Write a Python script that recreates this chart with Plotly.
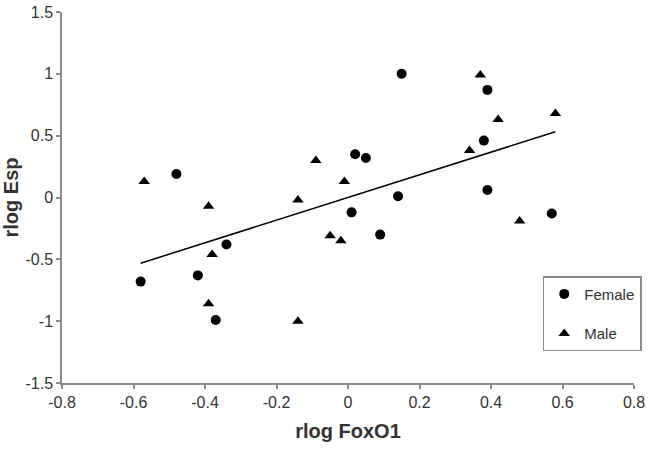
import numpy as np
import plotly.graph_objects as go

female_x = [-0.48, 0.15, 0.39, 0.38, 0.02, 0.05, 0.14, 0.39, 0.01, 0.57, 0.09, -0.58, -0.42, -0.34, -0.37]
female_y = [0.19, 1.00, 0.87, 0.46, 0.35, 0.32, 0.01, 0.06, -0.12, -0.13, -0.30, -0.68, -0.63, -0.38, -0.99]
male_x = [-0.57, -0.39, -0.14, -0.09, 0.37, 0.42, 0.58, 0.34, -0.01, 0.48, -0.05, -0.02, -0.38, -0.39, -0.14]
male_y = [0.13, -0.07, -0.02, 0.30, 0.99, 0.63, 0.68, 0.38, 0.13, -0.19, -0.31, -0.35, -0.46, -0.86, -1.00]

x_ticks = [-0.8, -0.6, -0.4, -0.2, 0, 0.2, 0.4, 0.6, 0.8]
y_ticks = [-1.5, -1, -0.5, 0, 0.5, 1, 1.5]

all_x = np.array(female_x + male_x)
all_y = np.array(female_y + male_y)
slope, intercept = np.polyfit(all_x, all_y, 1)
tx = np.array([all_x.min(), all_x.max()])
ty = slope * tx + intercept

FONT = "Liberation Sans, Arial"

fig = go.Figure()
fig.add_trace(go.Scatter(x=tx, y=ty, mode="lines", line=dict(color="black", width=1.5),
                         showlegend=False, hoverinfo="skip"))
fig.add_trace(go.Scatter(x=female_x, y=female_y, mode="markers", name="Female",
                         marker=dict(symbol="circle", size=10, color="black"),
                         legendgroup="f"))
fig.add_trace(go.Scatter(x=male_x, y=male_y, mode="markers", name="Male",
                         marker=dict(symbol="triangle-up", size=10, color="black"),
                         legendgroup="m"))

axis_common = dict(showgrid=False, zeroline=False, showline=True, linecolor="#8c8c8c",
                   linewidth=1.5, ticks="outside", ticklen=4, tickwidth=1.5, tickcolor="#8c8c8c",
                   automargin=False, ticklabeloverflow="allow",
                   tickfont=dict(family=FONT, size=16, color="#333333"))

fig.update_xaxes(range=[-0.8, 0.8], tickvals=x_ticks,
                 ticktext=[("%g" % v) for v in x_ticks],
                 title=dict(text="<b>rlog FoxO1</b>", font=dict(family=FONT, size=20, color="#333333"), standoff=14),
                 **axis_common)
fig.update_yaxes(range=[-1.5, 1.5], tickvals=y_ticks,
                 ticktext=[("%g" % v) for v in y_ticks],
                 title=dict(text="<b>rlog Esp</b>", font=dict(family=FONT, size=20, color="#333333"), standoff=4),
                 **axis_common)

fig.update_layout(
    template="none",
    width=653, height=452,
    margin=dict(l=62, r=18, t=12, b=69, pad=0),
    paper_bgcolor="white", plot_bgcolor="white",
    showlegend=True,
    legend=dict(x=0.839, y=0.288, xanchor="left", yanchor="top",
                bordercolor="#8c8c8c", borderwidth=1.5, bgcolor="white",
                font=dict(family=FONT, size=15, color="#333333"),
                itemwidth=30, tracegroupgap=17, traceorder="grouped"),
)

fig.write_html("out.html", config={"displayModeBar": False},
               post_script="document.body.style.margin='0';document.body.style.overflow='hidden';")
